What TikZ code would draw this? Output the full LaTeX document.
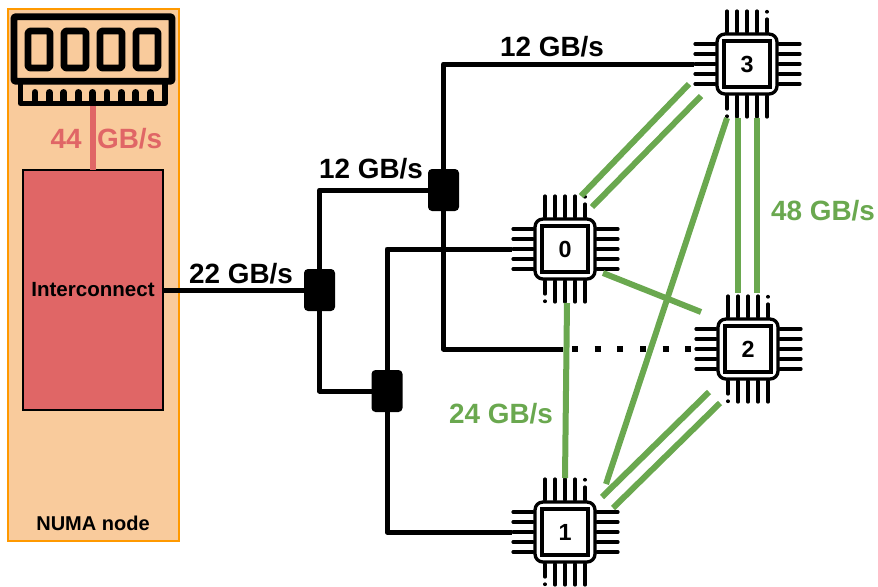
\documentclass[tikz,border=0pt]{standalone}
\usepackage{fontspec}
\setmainfont{Liberation Sans}
\usepackage{xcolor}
\usetikzlibrary{calc}
\definecolor{NumaFill}{RGB}{249, 203, 156}
\definecolor{NumaEdge}{RGB}{255, 153, 0}
\definecolor{LinkRed}{RGB}{224, 102, 102}
\definecolor{LinkGreen}{RGB}{106, 168, 79}

\begin{document}
\begin{tikzpicture}[
            x=0.75pt, y=-0.75pt,
            numabox/.style={
                draw=NumaEdge, fill=NumaFill, line width=1.5pt, outer sep=0pt, inner sep=0pt,
                minimum width=127.9pt, minimum height=399pt
            },
            hubbox/.style={
                draw, fill=LinkRed, line width=1.5pt, outer sep=0pt, inner sep=0pt,
                minimum width=105pt, minimum height=180pt, font=\fontsize{15.4}{18}\selectfont\bfseries
            },
            switchbox/.style={
                fill=black, rounded corners=3pt, outer sep=0pt, inner sep=0pt,
                minimum width=23.25pt, minimum height=31.5pt
            },
            chipcore/.style={
                draw, line width=3pt, outer sep=0pt, inner sep=0pt,
                minimum size=34.5pt, font=\fontsize{17.5}{20}\selectfont\bfseries
            },
            chipshell/.style={draw, line width=2.5pt, rounded corners=6pt},
            pin/.style={line width=2.4pt, line cap=round},
            ramline/.style={line width=5.2pt, line join=round},
            wire/.style={line width=3.75pt, line join=round},
            dotwire/.style={line width=4.5pt, dash pattern=on 4.5pt off 12.5pt, dash phase=10.25pt},
            redlink/.style={line width=4.5pt, LinkRed},
            greenlink/.style={line width=4.5pt, LinkGreen},
            tag/.style={font=\fontsize{20.9}{24}\selectfont\bfseries}
        ]
            \useasboundingbox (0,0) rectangle (878,586);

            % NUMA node
            \node[numabox] (numa) at (93.5,274.5) {};
            \node[font=\fontsize{15}{18}\selectfont\bfseries] (numalabel) at (93,523) {NUMA node};

            % Memory module
            \node[draw, ramline, rounded corners=1pt, minimum width=118.5pt, minimum height=48.4pt,
                outer sep=0pt, inner sep=0pt] (ram) at (93,49) {};
            \foreach \x in {28,64,100,136} {
                \draw[ramline, rounded corners=2pt] (\x,31) rectangle (\x+22,68);
            }
            \draw[line width=3.8pt, line join=round] (20.5,81) -- (20.5,103.5) -- (165,103.5) -- (165,81);
            \foreach \x in {35,49.4,63.8,78.2,92.6,107,121.4,135.8,150.2} {
                \draw[line width=5.2pt, line cap=round] (\x,102) -- (\x,92.5);
            }
            \coordinate (ramfoot) at (93,106);

            % Interconnect
            \node[hubbox] (hub) at (93,290) {Interconnect};
            \draw[redlink] (ramfoot) -- (hub.north);
            \node[tag, LinkRed] (memrate) at (106.5,139) {44\ \ GB/s};

            % Chips 0 to 3
            \foreach \n/\x/\y in {0/565/249, 1/565/532, 2/748/349, 3/747/64} {
                \node[chipcore] (c\n) at (\x,\y) {\n};
                \draw[chipshell] ([shift={(-30,-30)}]c\n.center) rectangle ([shift={(30,30)}]c\n.center);
                \foreach \d in {-20,-10,0,10,20} {
                    \draw[pin] ([shift={(-32,\d)}]c\n.center) -- ([shift={(-52,\d)}]c\n.center);
                    \draw[pin] ([shift={(32,\d)}]c\n.center) -- ([shift={(53,\d)}]c\n.center);
                }
                \foreach \d in {-20,-10,0,10} {
                    \draw[pin] ([shift={(\d,-32)}]c\n.center) -- ([shift={(\d,-53)}]c\n.center);
                }
                \foreach \d in {-10,0,10,20} {
                    \draw[pin] ([shift={(\d,32)}]c\n.center) -- ([shift={(\d,53)}]c\n.center);
                }
                % Broken corner pins
                \draw[pin] ([shift={(20,-32)}]c\n.center) -- ([shift={(20,-45)}]c\n.center);
                \draw[pin] ([shift={(20,-52)}]c\n.center) -- ([shift={(20,-52.5)}]c\n.center);
                \draw[pin] ([shift={(-20,32)}]c\n.center) -- ([shift={(-20,45)}]c\n.center);
                \draw[pin] ([shift={(-20,52)}]c\n.center) -- ([shift={(-20,52.5)}]c\n.center);
                \coordinate (c\n pin) at ([shift={(-53,0)}]c\n.center);
            }

            % Switches
            \node[switchbox] (swa) at (319.5,290) {};
            \node[switchbox] (swb) at (387,391) {};
            \node[switchbox] (swc) at (443.5,190) {};
            \coordinate (tap) at (563,349);

            % Black wires
            \draw[wire] (hub.east) -- (swa.west);
            \draw[wire] (swa.north) |- (swc.west);
            \draw[wire] (swa.south) |- (swb.west);
            \draw[wire] (swc.north) |- (c3pin);
            \draw[wire] (swc.south) |- (tap);
            \draw[dotwire] (tap) -- (c2pin);
            \draw[wire] (swb.north) |- (c0pin);
            \draw[wire] (swb.south) |- (c1pin);

            % Green links
            \draw[greenlink] ([shift={(-58,20)}]c3.center) -- ([shift={(16,-53)}]c0.center);
            \draw[greenlink] ([shift={(-46,32)}]c3.center) -- ([shift={(27,-42)}]c0.center);
            \draw[greenlink] ([shift={(-20,54)}]c3.center) -- ([shift={(41,-48)}]c1.center);
            \draw[greenlink] ([shift={(-9,54)}]c3.center) -- ([shift={(-10,-56)}]c2.center);
            \draw[greenlink] ([shift={(10,54)}]c3.center) -- ([shift={(9,-56)}]c2.center);
            \draw[greenlink] ([shift={(-39,43)}]c2.center) -- ([shift={(37,-35)}]c1.center);
            \draw[greenlink] ([shift={(-28,54)}]c2.center) -- ([shift={(48,-24)}]c1.center);
            \draw[greenlink] ([shift={(38,24)}]c0.center) -- ([shift={(-47,-37)}]c2.center);
            \draw[greenlink] ([shift={(2,54)}]c0.center) -- ([shift={(0,-54)}]c1.center);

            % Rates
            \node[tag] (rateup) at (241,274) {22 GB/s};
            \node[tag] (ratemid) at (371,169) {12 GB/s};
            \node[tag] (ratetop) at (552,47) {12 GB/s};
            \node[tag, LinkGreen] (ratedouble) at (823,211) {48 GB/s};
            \node[tag, LinkGreen] (ratesingle) at (501,414) {24 GB/s};
        \end{tikzpicture}
\end{document}
